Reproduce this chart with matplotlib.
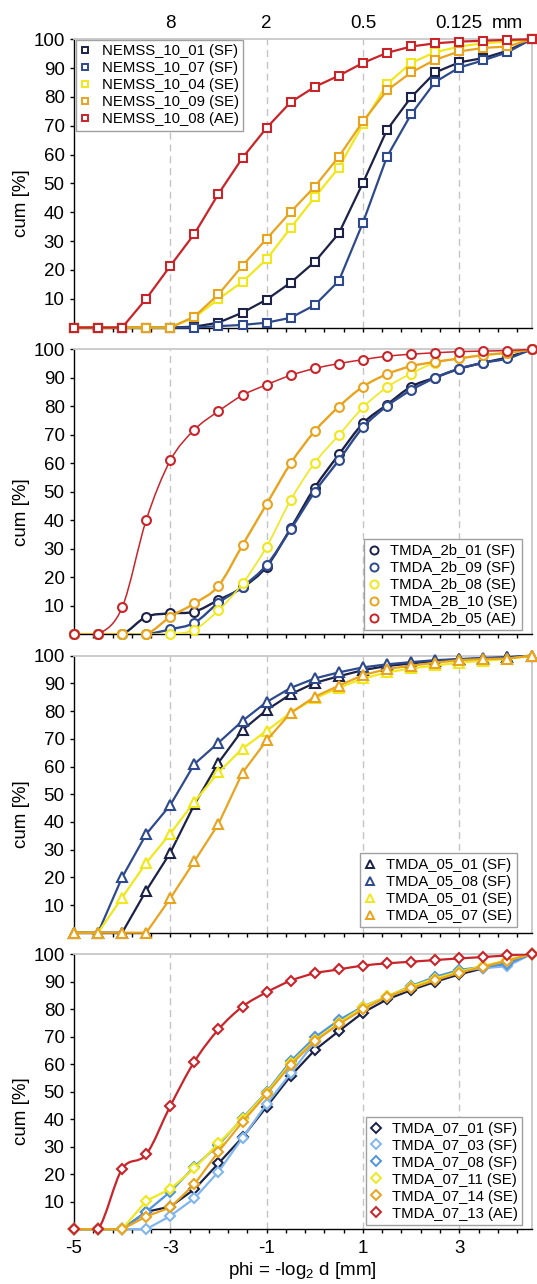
import matplotlib
matplotlib.use("Agg")
import matplotlib.pyplot as plt
from matplotlib.path import Path
from matplotlib.patches import PathPatch
from matplotlib.lines import Line2D
from matplotlib.ticker import FixedLocator, NullFormatter

plt.rcParams['font.family'] = ['Liberation Sans', 'DejaVu Sans']
plt.rcParams['mathtext.fontset'] = 'custom'
plt.rcParams['mathtext.rm'] = 'Liberation Sans'
plt.rcParams['mathtext.it'] = 'Liberation Sans:italic'
plt.rcParams['axes.unicode_minus'] = False

# grain size classes (phi), every half phi
phi = [-5, -4.5, -4, -3.5, -3, -2.5, -2, -1.5, -1, -0.5,
       0, 0.5, 1, 1.5, 2, 2.5, 3, 3.5, 4, 4.5]

# colours
navy = '#1c2246'
blue = '#2e4a8c'
yellow = '#f0e81c'
orange = '#e8a41e'
red = '#c8242a'
lightblue = '#80b6ec'
midblue = '#4f95dc'

# panel 1 - NEMSS_10
nemss_labels = ['NEMSS_10_01 (SF)', 'NEMSS_10_07 (SF)', 'NEMSS_10_04 (SE)',
                'NEMSS_10_09 (SE)', 'NEMSS_10_08 (AE)']
nemss_10_01 = [0, 0, 0, 0, 0, 0.3, 1.7, 5.2, 9.7, 15.6, 22.8, 32.7, 50.2, 68.6, 79.9, 88.5, 92, 93.5, 96, 100]
nemss_10_07 = [0, 0, 0, 0, 0, 0, 0.5, 0.9, 1.7, 3.4, 7.8, 16.2, 36.4, 59.3, 74, 85.2, 90.2, 92.7, 95.5, 100]
nemss_10_04 = [0, 0, 0, 0, 0, 3.5, 9.9, 15.9, 23.7, 34.6, 45.2, 55.5, 70.6, 84.5, 91.8, 95.5, 97.5, 98.6, 99.2, 100]
nemss_10_09 = [0, 0, 0, 0, 0, 3.8, 11.5, 21.5, 30.8, 40.1, 48.9, 59.3, 71.5, 82.3, 88.5, 92.9, 95.8, 97, 97.5, 100]
nemss_10_08 = [0, 0, 0, 10, 21.4, 32.5, 46.4, 58.9, 69.3, 78.2, 83.5, 87.4, 91.8, 95.3, 97.5, 98.6, 99.2, 99.5, 99.8, 100]

# panel 2 - TMDA_2b
t2b_labels = ['TMDA_2b_01 (SF)', 'TMDA_2b_09 (SF)', 'TMDA_2b_08 (SE)',
              'TMDA_2B_10 (SE)', 'TMDA_2b_05 (AE)']
tmda_2b_01 = [0, 0, 0, 6.1, 7.3, 7.9, 12, 16.4, 23.7, 37.2, 51.5, 63.1, 74, 80.6, 86.9, 90.1, 93.2, 95.3, 97.2, 100]
tmda_2b_09 = [0, 0, 0, 0, 1.7, 4, 11, 16.7, 24.3, 36.8, 50, 61.1, 72.6, 80.1, 85.7, 90, 93.2, 95.3, 96.8, 100]
tmda_2b_08 = [0, 0, 0, 0, 0, 1.6, 8.4, 17.8, 30.7, 47.1, 60.2, 69.9, 79.6, 86.7, 91.5, 95.3, 96.8, 98, 98.6, 100]
tmda_2b_10 = [0, 0, 0, 0, 6.1, 10.8, 17, 31.3, 45.7, 60, 71.3, 79.9, 86.9, 91.3, 94.1, 95.6, 96.8, 98, 98.8, 100]
tmda_2b_05 = [0, 0, 9.4, 40.1, 61, 71.8, 78.3, 83.9, 87.6, 90.9, 93.3, 95, 96.4, 97.6, 98.3, 98.8, 99.2, 99.4, 99.6, 100]

# panel 3 - TMDA_05
t05_labels = ['TMDA_05_01 (SF)', 'TMDA_05_08 (SF)', 'TMDA_05_01 (SE)', 'TMDA_05_07 (SE)']
tmda_05_01_sf = [0, 0, 0, 15.2, 28.9, 46.3, 61.4, 73.2, 80.4, 86.1, 90.2, 92.6, 94.8, 96.3, 97.2, 98.1, 98.7, 99, 99.4, 100]
tmda_05_08 = [0, 0, 20, 35.6, 46.1, 60.9, 68.6, 76.5, 83.3, 88.4, 91.8, 94, 95.8, 96.9, 97.7, 98.4, 98.8, 99.2, 99.5, 100]
tmda_05_01_se = [0, 0, 12.7, 25.2, 35.8, 47.3, 57.9, 66.5, 72.9, 79.4, 84.6, 88.4, 91.8, 94, 95.4, 96.5, 97.5, 98.2, 98.8, 100]
tmda_05_07 = [0, 0, 0, 0, 12.4, 25.8, 39.3, 57.8, 69.4, 79.4, 85.2, 89.2, 93, 95.2, 96.4, 97.5, 98.4, 98.8, 99, 100]

# panel 4 - TMDA_07
t07_labels = ['TMDA_07_01 (SF)', 'TMDA_07_03 (SF)', 'TMDA_07_08 (SF)',
              'TMDA_07_11 (SE)', 'TMDA_07_14 (SE)', 'TMDA_07_13 (AE)']
tmda_07_01 = [0, 0, 0, 6.3, 8.2, 14.5, 23.9, 33.4, 44.5, 55.7, 65.1, 72, 78.7, 83.5, 86.9, 89.9, 92.6, 94.8, 96.6, 100]
tmda_07_03 = [0, 0, 0, 0, 4.8, 11.2, 20.9, 33.2, 45.5, 56.6, 68.1, 75, 80.6, 84.5, 88.1, 91.4, 93.9, 94.8, 95.6, 100]
tmda_07_08 = [0, 0, 0, 6.3, 13.6, 22.7, 30.6, 40.3, 49.9, 61.1, 69.7, 76, 80.9, 84.5, 88.4, 91.7, 94.2, 95.4, 96.4, 100]
tmda_07_11 = [0, 0, 0, 10.3, 14.6, 22.1, 31.2, 40, 49.6, 60.3, 68.7, 75, 80.6, 84.7, 88.1, 91.1, 93.6, 95.6, 97.8, 100]
tmda_07_14 = [0, 0, 0, 4.6, 7.9, 16.3, 28.2, 39, 49.1, 59.7, 68.4, 74.5, 79.9, 84.5, 87.5, 90.5, 93.2, 95.4, 97.6, 100]
tmda_07_13 = [0, 0, 21.9, 27.2, 44.8, 60.9, 72.6, 80.9, 86.1, 90.3, 93, 94.4, 95.8, 96.6, 97.2, 97.8, 98.4, 98.9, 99.5, 100]

top_ticks = [-3, -1, 1, 3]
top_labels = ['8', '2', '0.5', '0.125']


def smooth_path(xs, ys):
    # excel style smoothed line (catmull-rom as bezier)
    n = len(xs)
    verts = [(xs[0], ys[0])]
    codes = [Path.MOVETO]
    for i in range(n - 1):
        x0, y0 = (xs[i - 1], ys[i - 1]) if i > 0 else (xs[i], ys[i])
        x3, y3 = (xs[i + 2], ys[i + 2]) if i + 2 < n else (xs[i + 1], ys[i + 1])
        c1 = (xs[i] + (xs[i + 1] - x0) / 6, ys[i] + (ys[i + 1] - y0) / 6)
        c2 = (xs[i + 1] - (x3 - xs[i]) / 6, ys[i + 1] - (y3 - ys[i]) / 6)
        verts += [c1, c2, (xs[i + 1], ys[i + 1])]
        codes += [Path.CURVE4] * 3
    return Path(verts, codes)


def draw_panel(ax, series, labels, colors, marker, ms, lws, smooth, legend_loc, legend_anchor):
    handles = []
    for i, (ys, lab, c) in enumerate(zip(series, labels, colors)):
        z = 3 + i
        if smooth[i]:
            ax.add_patch(PathPatch(smooth_path(phi, ys), fill=False, edgecolor=c,
                                   lw=lws[i], zorder=z, clip_on=True))
        else:
            ax.plot(phi, ys, color=c, lw=lws[i], zorder=z, clip_on=False)
        ax.plot(phi, ys, ls='none', marker=marker, ms=ms, mfc='white', mec=c,
                mew=1.5, zorder=z + 0.5, clip_on=False)
        handles.append(Line2D([], [], ls='none', marker=marker, ms=ms - 0.6,
                              mfc='white', mec=c, mew=1.4, label=lab))

    ax.set_xlim(-5, 4.5)
    ax.set_ylim(0, 100)
    ax.set_yticks(range(10, 101, 10))
    ax.xaxis.set_major_locator(FixedLocator([-5, -3, -1, 1, 3]))
    minor = [round(-5 + 0.4 * k, 1) for k in range(24)]
    minor = [m for m in minor if m not in (-5, -3, -1, 1, 3)]
    ax.xaxis.set_minor_locator(FixedLocator(minor))
    ax.tick_params(axis='both', which='both', direction='out', length=3.2,
                   width=1, labelsize=13.5, color='black')
    ax.tick_params(axis='y', pad=3.5)
    ax.tick_params(axis='x', pad=4.5)
    for x in top_ticks:
        ax.axvline(x, color='#c4c4c4', lw=1, ls=(0, (5, 3.5)), zorder=1)
    for s in ['top', 'right']:
        ax.spines[s].set_color('#c8c8c8')
        ax.spines[s].set_linewidth(1.3)
    for s in ['left', 'bottom']:
        ax.spines[s].set_color('black')
        ax.spines[s].set_linewidth(1)
    ax.set_ylabel('cum [%]', fontsize=13.5)
    h = ax.get_position().height * 1284
    ax.yaxis.set_label_coords(-0.096, 0.5 - 20 / h)

    leg = ax.legend(handles=handles, loc=legend_loc, bbox_to_anchor=legend_anchor,
                    borderaxespad=0, fontsize=10.7, frameon=True, fancybox=False,
                    edgecolor='#a0a0a0', framealpha=1, handlelength=0.7,
                    handletextpad=0.75, borderpad=0.3, labelspacing=0.2)
    leg.get_frame().set_linewidth(1)
    leg.set_zorder(20)


fig = plt.figure(figsize=(5.37, 12.84), dpi=100)
left = 74 / 537
width = 457.5 / 537
ax1 = fig.add_axes([left, 0.7449, width, 0.2245])
ax2 = fig.add_axes([left, 0.5061, width, 0.2218])
ax3 = fig.add_axes([left, 0.2736, width, 0.2157])
ax4 = fig.add_axes([left, 0.0427, width, 0.2143])

draw_panel(ax1, [nemss_10_01, nemss_10_07, nemss_10_04, nemss_10_09, nemss_10_08],
           nemss_labels, [navy, blue, yellow, orange, red], 's', 5.6,
           [1.6] * 5, [False] * 5, 'upper left', (0.004, 0.998))
draw_panel(ax2, [tmda_2b_01, tmda_2b_09, tmda_2b_08, tmda_2b_10, tmda_2b_05],
           t2b_labels, [navy, blue, yellow, orange, red], 'o', 6.4,
           [1.7, 1.7, 1.2, 1.7, 1.1], [True] * 5, 'lower right', (0.98, 0.014))
draw_panel(ax3, [tmda_05_01_sf, tmda_05_08, tmda_05_01_se, tmda_05_07],
           t05_labels, [navy, blue, yellow, orange], '^', 6.8,
           [1.6] * 4, [False] * 4, 'lower right', (0.968, 0.0195))
draw_panel(ax4, [tmda_07_01, tmda_07_03, tmda_07_08, tmda_07_11, tmda_07_14, tmda_07_13],
           t07_labels, [navy, lightblue, midblue, yellow, orange, red], 'D', 5.2,
           [1.6] * 6, [False] * 5 + [True], 'lower right', (0.98, 0.015))

for ax in (ax1, ax2, ax3):
    ax.xaxis.set_major_formatter(NullFormatter())
ax4.set_xticklabels(['-5', '-3', '-1', '1', '3'])
ax4.set_xlabel('phi = -log$_2$ d [mm]', fontsize=13.5, labelpad=2)

# grain diameter labels along the top
for x, lab in zip(top_ticks, top_labels):
    ax1.annotate(lab, xy=(x, 1), xycoords=('data', 'axes fraction'),
                 xytext=(0, 8), textcoords='offset points',
                 ha='center', va='baseline', fontsize=13.5)
ax1.annotate('mm', xy=(3, 1), xycoords=('data', 'axes fraction'),
             xytext=(23.5, 8), textcoords='offset points',
             ha='left', va='baseline', fontsize=13.5)

fig.savefig('out.png', dpi=100)
